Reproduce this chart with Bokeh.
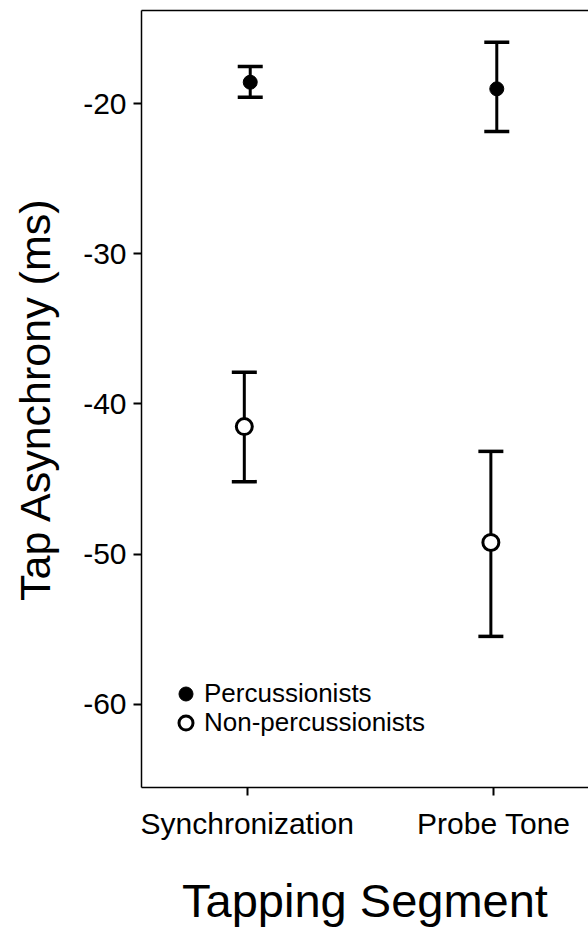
from bokeh.plotting import figure
from bokeh.models import (Range1d, FixedTicker, LinearAxis, Whisker, ColumnDataSource,
                          Legend, LegendItem, TeeHead)
from bokeh.transform import dodge
from bokeh.embed import file_html
from bokeh.resources import INLINE

# ---- data ----
segments = ["Synchronization", "Probe Tone"]
perc_mean = [-18.56, -19.0]
perc_upper = [-17.51, -15.89]
perc_lower = [-19.56, -21.85]
nonperc_mean = [-41.51, -49.23]
nonperc_upper = [-37.89, -43.16]
nonperc_lower = [-45.18, -55.49]
y_ticks = [-60, -50, -40, -30, -20]
y_tick_labels = ["-60", "-50", "-40", "-30", "-20"]

FONT = "Liberation Sans"
pos = [i + 1 for i in range(len(segments))]

src_p = ColumnDataSource(dict(x=pos, mean=perc_mean, upper=perc_upper, lower=perc_lower))
src_n = ColumnDataSource(dict(x=pos, mean=nonperc_mean, upper=nonperc_upper, lower=nonperc_lower))

p = figure(width=588, height=930, output_backend="svg", toolbar_location=None,
           x_range=Range1d(0.571, 2.384), y_range=Range1d(-65.56, -13.78),
           min_border_left=141, min_border_right=0, min_border_top=10, min_border_bottom=143)
p.outline_line_color = None
p.grid.visible = False
p.background_fill_color = "white"
p.border_fill_color = "white"

DP = 0.012
DN = -0.012

for src, off in ((src_p, DP), (src_n, DN)):
    w = Whisker(source=src, base=dodge("x", off), upper="upper", lower="lower",
                line_color="black", line_width=3,
                upper_head=TeeHead(size=25, line_color="black", line_width=3.5),
                lower_head=TeeHead(size=25, line_color="black", line_width=3.5))
    p.add_layout(w)

r_p = p.scatter(dodge("x", DP), "mean", source=src_p, size=14, marker="circle",
                fill_color="black", line_color="black", line_width=1)
r_n = p.scatter(dodge("x", DN), "mean", source=src_n, size=16, marker="circle",
                fill_color="white", line_color="black", line_width=3)

legend_style = dict(glyph_width=35, glyph_height=35, spacing=0,
                    padding=0, margin=0, label_standoff=1,
                    label_text_font=FONT, label_text_font_size="26px",
                    label_text_color="black",
                    border_line_color=None, background_fill_alpha=0)
leg1 = Legend(items=[LegendItem(label="Percussionists", renderers=[r_p])],
              location=(27, 76), **legend_style)
leg2 = Legend(items=[LegendItem(label="Non-percussionists", renderers=[r_n])],
              location=(27, 47), **legend_style)
p.add_layout(leg1)
p.add_layout(leg2)

# axes
p.xaxis.ticker = FixedTicker(ticks=pos)
p.xaxis.major_label_overrides = {pp: s for pp, s in zip(pos, segments)}
p.yaxis.ticker = FixedTicker(ticks=y_ticks)
p.yaxis.major_label_overrides = {t: s for t, s in zip(y_ticks, y_tick_labels)}
for ax in (p.xaxis[0], p.yaxis[0]):
    ax.axis_line_color = "black"
    ax.axis_line_width = 1.5
    ax.major_tick_line_color = "black"
    ax.major_tick_line_width = 2
    ax.major_tick_out = 8
    ax.major_tick_in = 0
    ax.minor_tick_out = 0
    ax.minor_tick_in = 0
    ax.major_label_text_font = FONT
    ax.major_label_text_font_size = "30px"
    ax.major_label_text_color = "black"
    ax.axis_label_text_font = FONT
    ax.axis_label_text_font_style = "normal"
    ax.axis_label_text_color = "black"

p.xaxis.axis_label = "Tapping Segment"
p.xaxis.axis_label_text_font_size = "47px"
p.xaxis.major_label_standoff = 11
p.xaxis.axis_label_standoff = 31
p.yaxis.axis_label = "Tap Asynchrony (ms)"
p.yaxis.axis_label_text_font_size = "43px"
p.yaxis.major_label_standoff = 7
p.yaxis.axis_label_standoff = 21

top = LinearAxis(ticker=FixedTicker(ticks=[]), major_tick_out=0, major_tick_in=0,
                 minor_tick_out=0, minor_tick_in=0, major_label_text_font_size="0px",
                 axis_line_color="black", axis_line_width=1.5)
p.add_layout(top, "above")

open("out.html", "w").write(file_html(p, INLINE))
